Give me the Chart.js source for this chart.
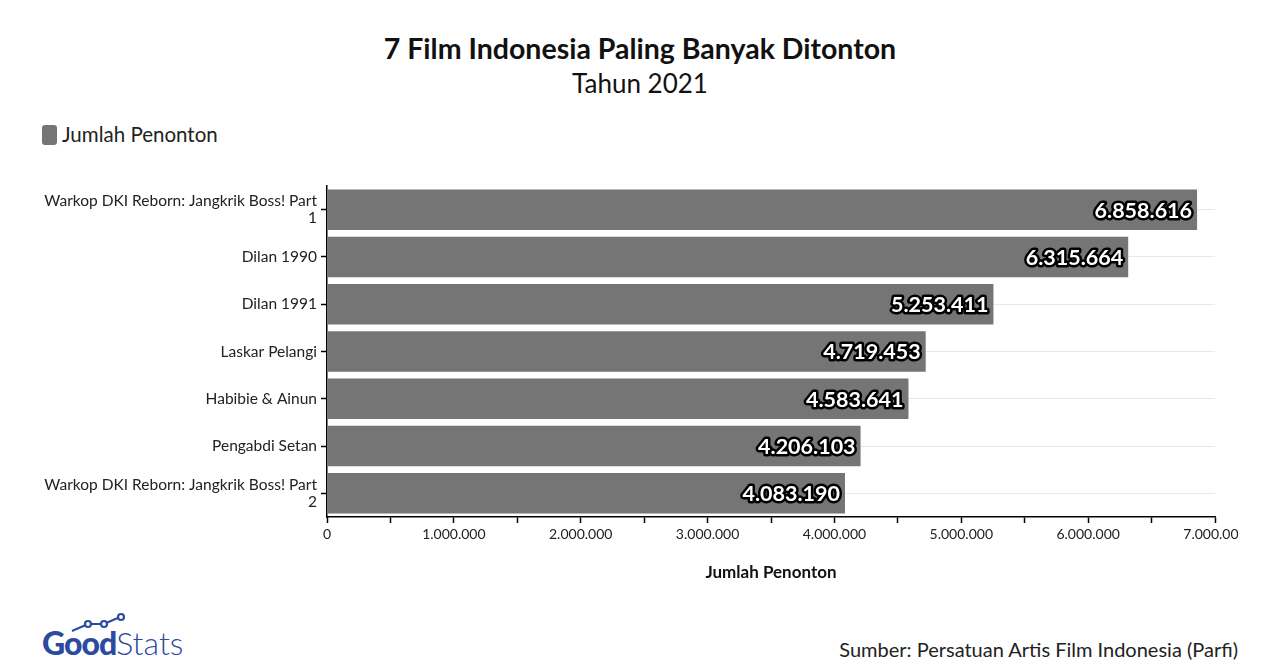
<!DOCTYPE html>
<html>
<head>
<meta charset="utf-8">
<script src="https://cdn.jsdelivr.net/npm/chart.js@4.4.1/dist/chart.umd.min.js"></script>
<style>
  html, body { margin: 0; padding: 0; background: #fff; }
  body { width: 1280px; height: 671px; position: relative; overflow: hidden; font-family: Lato, "Noto Sans", sans-serif; color: #111; }
  #title { position: absolute; left: 0; width: 1280px; top: 31px; text-align: center; font-size: 28.5px; font-weight: bold; }
  #subtitle { position: absolute; left: 0; width: 1280px; top: 67px; text-align: center; font-size: 26px; }
  #legend { position: absolute; left: 42px; top: 122px; font-size: 20.5px; color: #222; }
  #legend i { display: inline-block; width: 15px; height: 20px; background: #757575; border-radius: 3px; vertical-align: -3px; margin-right: 5px; }
  #wrap { position: absolute; left: 0; top: 170px; width: 1238px; height: 420px; }
  #source { position: absolute; right: 42px; top: 637px; font-size: 20px; color: #222; }
  #logo { position: absolute; left: 42px; top: 612px; width: 170px; height: 50px; }
  #logo .txt { position: absolute; left: 0; top: 11px; font-size: 32px; color: #2c4ba0; white-space: nowrap; }
</style>
</head>
<body>
<div id="title">7 Film Indonesia Paling Banyak Ditonton</div>
<div id="subtitle">Tahun 2021</div>
<div id="legend"><i></i>Jumlah Penonton</div>
<div id="wrap"><canvas id="chart"></canvas></div>
<div id="logo">
  <svg width="170" height="22" style="position:absolute;left:0;top:0">
    <polyline points="30,19 46,12 62,12 78,5" fill="none" stroke="#2c4ba0" stroke-width="2.2"/>
    <circle cx="46" cy="12" r="3" fill="#fff" stroke="#2c4ba0" stroke-width="2.2"/>
    <circle cx="62" cy="12" r="3" fill="#fff" stroke="#2c4ba0" stroke-width="2.2"/>
    <circle cx="79" cy="5" r="3" fill="#fff" stroke="#2c4ba0" stroke-width="2.2"/>
  </svg>
  <div class="txt"><span style="font-weight:900;letter-spacing:-1px">Good</span><span style="font-weight:300">Stats</span></div>
</div>
<div id="source">Sumber: Persatuan Artis Film Indonesia (Parfi)</div>
<script>
var films = [
  ["Warkop DKI Reborn: Jangkrik Boss! Part", "1"],
  "Dilan 1990",
  "Dilan 1991",
  "Laskar Pelangi",
  "Habibie & Ainun",
  "Pengabdi Setan",
  ["Warkop DKI Reborn: Jangkrik Boss! Part", "2"]
];
var viewers = [6858616, 6315664, 5253411, 4719453, 4583641, 4206103, 4083190];
var seriesName = "Jumlah Penonton";

function fmt(n) {
  return String(n).replace(/\B(?=(\d{3})+(?!\d))/g, ".");
}

// white numbers with black outline at the end of each bar
var valueLabels = {
  id: "valueLabels",
  afterDatasetsDraw: function (chart) {
    var ctx = chart.ctx;
    var meta = chart.getDatasetMeta(0);
    ctx.save();
    ctx.font = "bold 21.5px Lato, 'Noto Sans', sans-serif";
    ctx.textAlign = "right";
    ctx.textBaseline = "middle";
    ctx.lineJoin = "round";
    meta.data.forEach(function (bar, i) {
      var txt = fmt(viewers[i]);
      var x = bar.x - 5, y = bar.y + 1;
      ctx.lineWidth = 5;
      ctx.strokeStyle = "#000";
      ctx.strokeText(txt, x, y);
      ctx.fillStyle = "#fff";
      ctx.fillText(txt, x, y);
    });
    ctx.restore();
  }
};

new Chart(document.getElementById("chart"), {
  type: "bar",
  data: {
    labels: films,
    datasets: [{
      label: seriesName,
      data: viewers,
      backgroundColor: "#757575",
      categoryPercentage: 1,
      barPercentage: 0.856
    }]
  },
  options: {
    indexAxis: "y",
    responsive: true,
    maintainAspectRatio: false,
    animation: false,
    layout: { padding: { top: 16, right: 23, left: 0, bottom: 0 } },
    plugins: {
      legend: { display: false },
      tooltip: { enabled: false }
    },
    scales: {
      x: {
        min: 0,
        max: 7000000,
        ticks: {
          stepSize: 500000,
          autoSkip: false,
          maxRotation: 0,
          color: "#222",
          font: { family: "Lato", size: 14 },
          padding: 3,
          callback: function (v) { return v % 1000000 === 0 ? fmt(v) : ""; }
        },
        grid: { drawOnChartArea: false, drawTicks: true, tickLength: 6, tickColor: "#000", tickWidth: 1.5 },
        border: { color: "#000", width: 1.5 },
        title: {
          display: true,
          text: seriesName,
          color: "#111",
          font: { family: "Lato", size: 17, weight: "bold" },
          padding: { top: 9, bottom: 7 }
        },
        afterFit: function (s) { s.height = 73; s.paddingLeft = 0; s.paddingRight = 0; }
      },
      y: {
        ticks: {
          color: "#222",
          font: { family: "Lato", size: 15.5, lineHeight: 1.1 },
          padding: 4
        },
        grid: { offset: false, color: "#e8e8e8", tickColor: "#000", tickLength: 6, tickWidth: 1.5 },
        border: { color: "#000", width: 1.5 },
        afterFit: function (s) { s.width = 327; s.paddingTop = 0; s.paddingBottom = 0; }
      }
    }
  },
  plugins: [valueLabels]
});
</script>
</body>
</html>
